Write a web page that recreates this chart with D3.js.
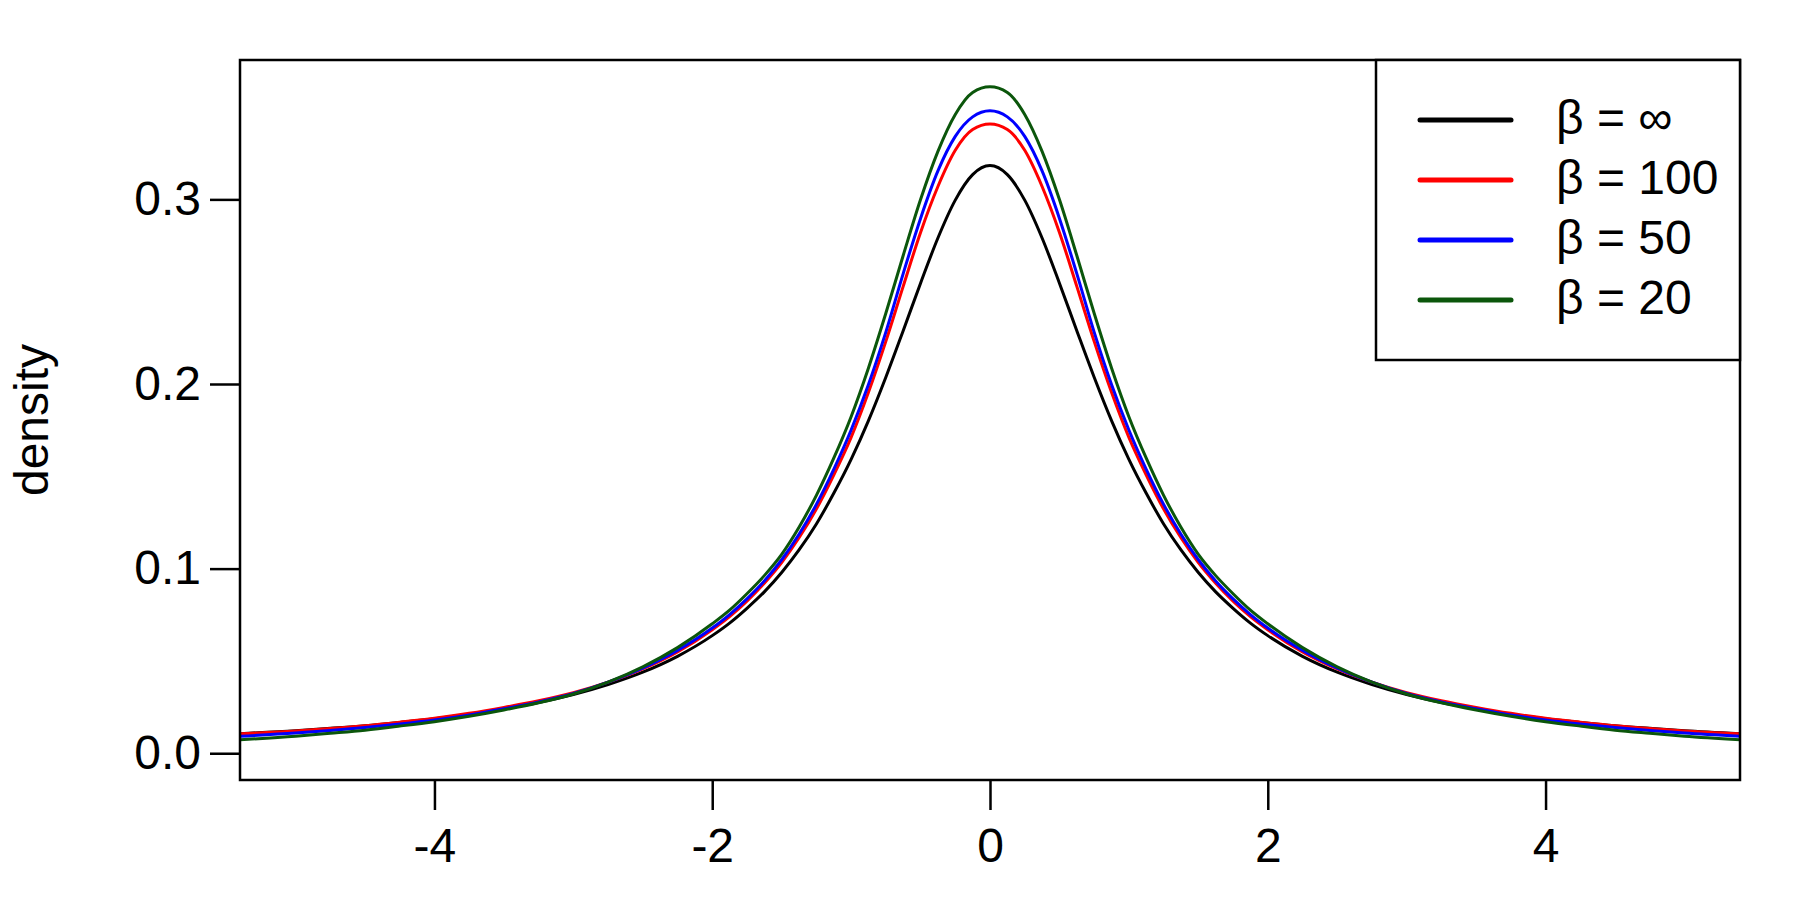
<!DOCTYPE html>
<html>
<head>
<meta charset="utf-8">
<script src="https://cdn.jsdelivr.net/npm/d3@7"></script>
<style>
  html, body { margin: 0; padding: 0; background: #fff; }
  text { font-family: "Liberation Sans", Arial, sans-serif; fill: #000; }
</style>
</head>
<body>
<div class="density-chart-container"></div>
<script>
// Data (curves are symmetric about 0)
const xValues = [-5.4, -5, -4.75, -4.5, -4.25, -4, -3.75, -3.5, -3.25, -3, -2.75, -2.5, -2.25, -2, -1.875, -1.75, -1.625, -1.5,
  -1.375, -1.25, -1.125, -1, -0.875, -0.75, -0.625, -0.5, -0.375, -0.25, -0.125,
  0, 0.125, 0.25, 0.375, 0.5, 0.625, 0.75, 0.875, 1, 1.125, 1.25, 1.375,
  1.5, 1.625, 1.75, 1.875, 2, 2.25, 2.5, 2.75, 3, 3.25, 3.5, 3.75, 4, 4.25, 4.5, 4.75, 5, 5.4];

// beta = infinity (black)
const densInf = [0.0106, 0.0122, 0.0135, 0.0149, 0.0167, 0.0187, 0.0211, 0.0241, 0.0275, 0.0318, 0.0372, 0.0439, 0.0525, 0.0637, 0.0705, 0.0785, 0.0874, 0.0979,
  0.1101, 0.1242, 0.1408, 0.1592, 0.1802, 0.2037, 0.2289, 0.2546, 0.2791, 0.2996, 0.3134,
  0.3183, 0.3134, 0.2996, 0.2791, 0.2546, 0.2289, 0.2037, 0.1802, 0.1592, 0.1408, 0.1242, 0.1101,
  0.0979, 0.0874, 0.0785, 0.0705, 0.0637, 0.0525, 0.0439, 0.0372, 0.0318, 0.0275, 0.0241, 0.0211, 0.0187, 0.0167, 0.0149, 0.0135, 0.0122, 0.0106];
// beta = 100 (red)
const dens100 = [0.0105, 0.0121, 0.0134, 0.0149, 0.0168, 0.0189, 0.0216, 0.0248, 0.0284, 0.0328, 0.0385, 0.0457, 0.0549, 0.0669, 0.0740, 0.0824, 0.0921, 0.1033,
  0.1167, 0.1323, 0.1507, 0.1711, 0.1955, 0.2231, 0.2529, 0.2821, 0.3070, 0.3266, 0.3378,
  0.3408, 0.3378, 0.3266, 0.3070, 0.2821, 0.2529, 0.2231, 0.1955, 0.1711, 0.1507, 0.1323, 0.1167,
  0.1033, 0.0921, 0.0824, 0.0740, 0.0669, 0.0549, 0.0457, 0.0385, 0.0328, 0.0284, 0.0248, 0.0216, 0.0189, 0.0168, 0.0149, 0.0134, 0.0121, 0.0105];
// beta = 50 (blue)
const dens50 = [0.0092, 0.0109, 0.0123, 0.0139, 0.0158, 0.0180, 0.0207, 0.0241, 0.0278, 0.0324, 0.0385, 0.0461, 0.0557, 0.0678, 0.0751, 0.0836, 0.0933, 0.1048,
  0.1186, 0.1348, 0.1538, 0.1751, 0.1997, 0.2281, 0.2598, 0.2897, 0.3154, 0.3341, 0.3447,
  0.3480, 0.3447, 0.3341, 0.3154, 0.2897, 0.2598, 0.2281, 0.1997, 0.1751, 0.1538, 0.1348, 0.1186,
  0.1048, 0.0933, 0.0836, 0.0751, 0.0678, 0.0557, 0.0461, 0.0385, 0.0324, 0.0278, 0.0241, 0.0207, 0.0180, 0.0158, 0.0139, 0.0123, 0.0109, 0.0092];
// beta = 20 (green)
const dens20 = [0.0073, 0.0092, 0.0108, 0.0125, 0.0147, 0.0171, 0.0200, 0.0234, 0.0273, 0.0321, 0.0385, 0.0468, 0.0572, 0.0701, 0.0775, 0.0864, 0.0962, 0.1077,
  0.1224, 0.1397, 0.1598, 0.1823, 0.2087, 0.2383, 0.2696, 0.2999, 0.3260, 0.3460, 0.3579,
  0.3610, 0.3579, 0.3460, 0.3260, 0.2999, 0.2696, 0.2383, 0.2087, 0.1823, 0.1598, 0.1397, 0.1224,
  0.1077, 0.0962, 0.0864, 0.0775, 0.0701, 0.0572, 0.0468, 0.0385, 0.0321, 0.0273, 0.0234, 0.0200, 0.0171, 0.0147, 0.0125, 0.0108, 0.0092, 0.0073];

const seriesNames = ['β = ∞', 'β = 100', 'β = 50', 'β = 20'];
const seriesColors = ['#000000', '#ff0000', '#0000ff', '#0b560b'];
const seriesValues = [densInf, dens100, dens50, dens20];

const xTicks = [-4, -2, 0, 2, 4];
const yTicks = [0, 0.1, 0.2, 0.3];

// Canvas
const svg_width = 1800;
const svg_height = 900;
const plot = { left: 240, right: 1740, top: 60, bottom: 780 };

const svg = d3.select('.density-chart-container').append('svg')
  .attr('width', svg_width).attr('height', svg_height)
  .style('display', 'block');

svg.append('rect').attr('width', svg_width).attr('height', svg_height).attr('fill', '#fff');

// scales
const xScale = d3.scaleLinear().domain([-5.4, 5.4]).range([plot.left, plot.right]);
const yScale = d3.scaleLinear().domain([-0.0145, 0.3755]).range([plot.bottom, plot.top]);

// clip to plotting region
svg.append('clipPath').attr('id', 'plot-clip')
  .append('rect')
  .attr('x', plot.left).attr('y', plot.top)
  .attr('width', plot.right - plot.left).attr('height', plot.bottom - plot.top);

// series
const series = seriesNames.map((name, i) => ({
  name: name,
  color: seriesColors[i],
  values: xValues.map((x, j) => ({ x: x, y: seriesValues[i][j] }))
}));

const lineGen = d3.line()
  .x(d => xScale(d.x))
  .y(d => yScale(d.y))
  .curve(d3.curveMonotoneX);

svg.append('g').attr('class', 'lines').attr('clip-path', 'url(#plot-clip)')
  .selectAll('path').data(series).enter()
  .append('path')
  .attr('d', d => lineGen(d.values))
  .style('fill', 'none')
  .style('stroke', d => d.color)
  .style('stroke-width', 3)
  .style('stroke-linejoin', 'round');

// axes (R style: ticks only, box drawn separately)
// R prints a plain hyphen for negatives
const xAxis = d3.axisBottom(xScale).tickValues(xTicks).tickSize(30).tickPadding(18)
  .tickFormat(d => String(d));
svg.append('g').attr('class', 'x axis')
  .attr('transform', `translate(0,${plot.bottom})`)
  .call(xAxis)
  .call(g => g.select('.domain').remove());

const yAxis = d3.axisLeft(yScale).tickValues(yTicks).tickSize(30).tickPadding(9)
  .tickFormat(d => d.toFixed(1));
svg.append('g').attr('class', 'y axis')
  .attr('transform', `translate(${plot.left},0)`)
  .call(yAxis)
  .call(g => g.select('.domain').remove());

svg.selectAll('.axis line').style('stroke', '#000').style('stroke-width', 2.5);
svg.selectAll('.axis text')
  .style('font-size', '48px')
  .style('font-family', '"Liberation Sans", Arial, sans-serif')
  .style('fill', '#000');

// box
svg.append('rect')
  .attr('x', plot.left).attr('y', plot.top)
  .attr('width', plot.right - plot.left).attr('height', plot.bottom - plot.top)
  .style('fill', 'none').style('stroke', '#000').style('stroke-width', 2.5);

// y label
svg.append('text')
  .attr('transform', `translate(48,${(plot.top + plot.bottom) / 2}) rotate(-90)`)
  .attr('text-anchor', 'middle')
  .style('font-size', '48px')
  .text('density');

// legend
const legend = svg.append('g').attr('class', 'legend');
legend.append('rect')
  .attr('x', 1376).attr('y', plot.top)
  .attr('width', plot.right - 1376).attr('height', 300)
  .style('fill', '#fff').style('stroke', '#000').style('stroke-width', 2.5);

const legendRow = d3.scalePoint().domain(seriesNames).range([120, 300]);

legend.selectAll('.legend-line').data(series).enter()
  .append('line')
  .attr('x1', 1420).attr('x2', 1511)
  .attr('y1', d => legendRow(d.name)).attr('y2', d => legendRow(d.name))
  .style('stroke', d => d.color)
  .style('stroke-width', 5)
  .style('stroke-linecap', 'round');

legend.selectAll('.legend-label').data(series).enter()
  .append('text')
  .attr('x', 1556)
  .attr('y', d => legendRow(d.name) + 13.5)
  .style('font-size', '48px')
  .text(d => d.name);
</script>
</body>
</html>
